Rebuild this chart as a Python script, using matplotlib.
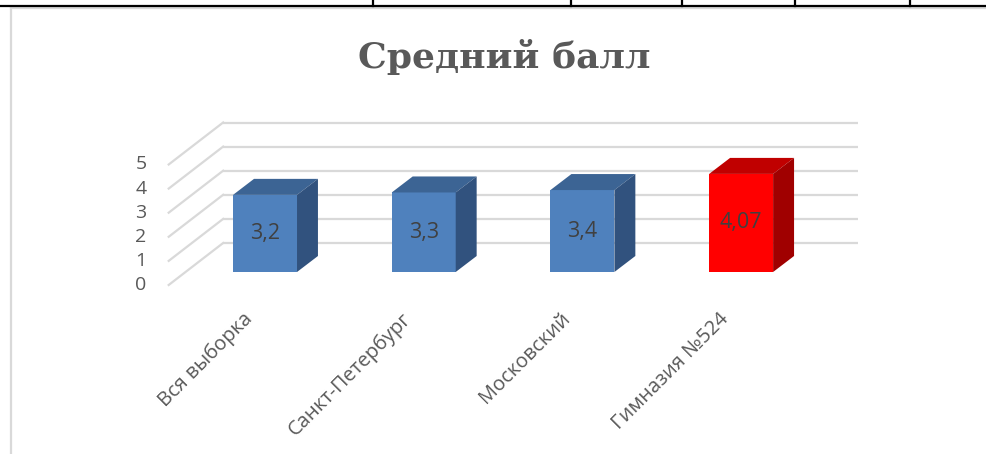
import matplotlib.pyplot as plt
from matplotlib.lines import Line2D
from matplotlib.patches import Polygon

categories = ['Вся выборка', 'Санкт-Петербург', 'Московский', 'Гимназия №524']
values = [3.2, 3.3, 3.4, 4.07]
value_labels = ['3,2', '3,3', '3,4', '4,07']
y_ticks = [0, 1, 2, 3, 4, 5]

# colours (front, top, side)
blue = ('#4F81BD', '#3C6494', '#31527E')
red = ('#FF0000', '#C00000', '#A00000')
face_colors = [blue, blue, blue, red]

grid_c = '#D9D9D9'
text_c = '#595959'

plt.rcParams['font.family'] = ['Open Sans', 'DejaVu Sans']

fig = plt.figure(figsize=(9.86, 4.54), dpi=100)
ax = fig.add_axes([0, 0, 1, 1])
# one category = 158.7 px, one point of score = 24.1 px
ax.set_xlim(-1.670, 4.543)
ax.set_ylim(-7.552, 11.286)
ax.axis('off')

# fake 3d offsets (in data units)
bar_w = 0.403
bar_dx, bar_dy = 0.132, 0.664      # depth of the bars
back_dx, back_dy = 0.236, 1.203    # back wall
front_dx, front_dy = -0.107, -0.539  # front edge of the floor
x_lo, x_hi = -0.5, len(categories) - 0.5

# walls / gridlines
for v in y_ticks:
    ax.plot([x_lo + back_dx, x_hi + back_dx], [v + back_dy, v + back_dy],
            color=grid_c, lw=1.6, zorder=1, solid_capstyle='butt')
    ax.plot([x_lo + front_dx, x_lo + back_dx], [v + front_dy, v + back_dy],
            color=grid_c, lw=1.6, zorder=1)
    ax.text(x_lo + front_dx - 0.14, v + front_dy, str(v), ha='right', va='center',
            fontsize=14, color=text_c)

# bars
xs = list(range(len(categories)))
ax.bar(xs, values, width=bar_w, color=[c[0] for c in face_colors], zorder=3)
for x, v, cols, lab in zip(xs, values, face_colors, value_labels):
    l, r = x - bar_w / 2, x + bar_w / 2
    top = Polygon([(l, v), (r, v), (r + bar_dx, v + bar_dy), (l + bar_dx, v + bar_dy)],
                  closed=True, facecolor=cols[1], edgecolor='none', zorder=3)
    side = Polygon([(r, 0), (r, v), (r + bar_dx, v + bar_dy), (r + bar_dx, bar_dy)],
                   closed=True, facecolor=cols[2], edgecolor='none', zorder=3)
    ax.add_patch(top)
    ax.add_patch(side)
    ax.text(x, v / 2, lab, ha='center', va='center', fontsize=15.5, color='#404040', zorder=4)

# category labels
for x, name in zip(xs, categories):
    ax.text(x - 0.095, -1.83, name, rotation=45, rotation_mode='anchor',
            ha='right', va='center', fontsize=14.5, color=text_c)

fig.text(504 / 986, 1 - 68 / 454, 'Средний балл', ha='center', va='baseline',
         fontsize=26, fontweight='bold', color=text_c, family='DejaVu Serif')

# chart frame and the table border above it
fig.add_artist(Line2D([11 / 986, 11 / 986], [0, 1 - 8 / 454], color=grid_c, lw=1.6))
fig.add_artist(Line2D([11 / 986, 1], [1 - 8 / 454, 1 - 8 / 454], color=grid_c, lw=1.6))
fig.add_artist(Line2D([0, 1], [1 - 6 / 454, 1 - 6 / 454], color='black', lw=1.6))
for px in [373, 571, 682, 795, 910]:
    fig.add_artist(Line2D([px / 986, px / 986], [1 - 6 / 454, 1], color='black', lw=1.6))

fig.savefig('out.png', dpi=100, facecolor='white')
